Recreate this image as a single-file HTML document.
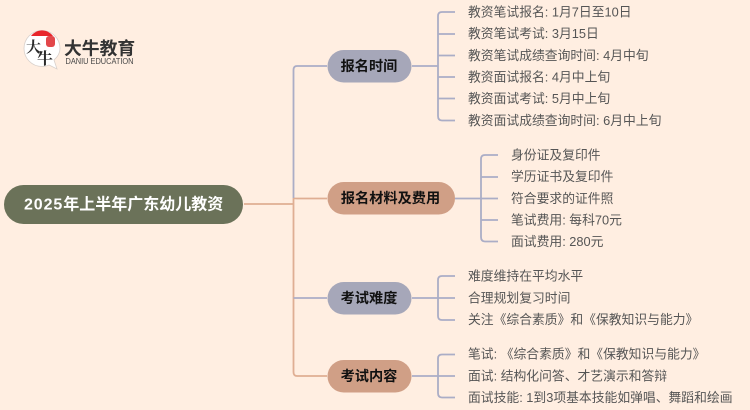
<!DOCTYPE html>
<html lang="zh"><head><meta charset="utf-8"><title>2025年上半年广东幼儿教资</title>
<style>
html,body{margin:0;padding:0;background:#ffeee1;width:750px;height:410px;overflow:hidden}
svg{display:block;filter:blur(.3px)}
text{font-family:"Liberation Sans","Noto Sans CJK SC",sans-serif}
.c{font-size:12.8px;fill:#555}
.n{font-size:14.200px;font-weight:700;fill:#111;text-anchor:middle}
.l{fill:none;stroke-width:1.800}
.p{stroke:#abadc6}
.o{stroke:#dfae93}
</style></head><body>
<svg width="750" height="410" viewBox="0 0 750 410" xmlns="http://www.w3.org/2000/svg">
<rect width="750" height="410" fill="#ffeee1"/>

<!-- trunk -->
<path class="l p" d="M327 66H297Q293.500 66 293.500 70V198"/>
<path class="l o" d="M244 204H293.500M293.500 198V372Q293.500 376 297 376H327M293.500 198Q293.500 198.500 297 198.500H327"/>
<path class="l p" d="M293.500 298H327"/>

<!-- root -->
<rect x="4" y="185" width="239" height="39" rx="19.500" fill="#6b7259"/>
<text x="24" y="209.500" font-size="16" font-weight="700" fill="#fff"><tspan letter-spacing="0.900">2025</tspan>年上半年广东幼儿教资</text>

<!-- branch nodes -->
<rect x="327.500" y="50" width="84" height="32.500" rx="16.250" fill="#a6a7b9"/>
<text class="n" x="369" y="71">报名时间</text>
<rect x="327.500" y="182" width="127.500" height="32.500" rx="16.250" fill="#d09f86"/>
<text class="n" x="390.500" y="203">报名材料及费用</text>
<rect x="327.500" y="282" width="84" height="32.500" rx="16.250" fill="#a6a7b9"/>
<text class="n" x="369" y="303">考试难度</text>
<rect x="327.500" y="360" width="84" height="32.500" rx="16.250" fill="#d09f86"/>
<text class="n" x="369" y="381">考试内容</text>

<!-- group 1 -->
<path class="l p" d="M412 66H438M455 12H442Q438 12 438 16V116Q438 120.500 442 120.500H455M438 34H455M438 55.500H455M438 77H455M438 98.500H455"/>
<text class="c" x="468" y="16.500">教资笔试报名: 1月7日至10日</text>
<text class="c" x="468" y="38">教资笔试考试: 3月15日</text>
<text class="c" x="468" y="60">教资笔试成绩查询时间: 4月中旬</text>
<text class="c" x="468" y="81.500">教资面试报名: 4月中上旬</text>
<text class="c" x="468" y="103">教资面试考试: 5月中上旬</text>
<text class="c" x="468" y="125">教资面试成绩查询时间: 6月中上旬</text>

<!-- group 2 -->
<path class="l p" d="M455 198.500H481M498 155H485Q481 155 481 159V237Q481 241.500 485 241.500H498M481 177H498M481 198.500H498M481 220H498"/>
<text class="c" x="511" y="159.500">身份证及复印件</text>
<text class="c" x="511" y="181">学历证书及复印件</text>
<text class="c" x="511" y="203">符合要求的证件照</text>
<text class="c" x="511" y="224.500">笔试费用: 每科70元</text>
<text class="c" x="511" y="246">面试费用: 280元</text>

<!-- group 3 -->
<path class="l p" d="M412 298H438M455 276H442Q438 276 438 280V316Q438 320 442 320H455M438 298H455"/>
<text class="c" x="468" y="280.500">难度维持在平均水平</text>
<text class="c" x="468" y="302.500">合理规划复习时间</text>
<text class="c" x="468" y="324">关注《综合素质》和《保教知识与能力》</text>

<!-- group 4 -->
<path class="l p" d="M412 376H438M455 354.500H442Q438 354.500 438 358.500V393Q438 397.500 442 397.500H455M438 376H455"/>
<text class="c" x="468" y="358.500">笔试: 《综合素质》和《保教知识与能力》</text>
<text class="c" x="468" y="380.500">面试: 结构化问答、才艺演示和答辩</text>
<text class="c" x="468" y="402">面试技能: 1到3项基本技能如弹唱、舞蹈和绘画</text>

<!-- logo -->
<path d="M42 30.500C32 30.500 24 38.500 24 48.500C24 58.500 32 66.500 42 66.500C45 66.500 47 66 49 65L57 69L54 60C57.500 57 60 53 60 48.500C60 38.500 52 30.500 42 30.500Z" fill="#fff" stroke="#d8d0cb" stroke-width="0.800"/>
<path d="M31 36C37 28.500 47 28.500 53 36Z" fill="#e8262a"/>
<rect x="46" y="36" width="9" height="11" rx="3" fill="#e2474a"/>
<text x="26" y="52" font-size="15" font-weight="700" fill="#2a2a2a" style="font-family:'Noto Serif CJK SC',serif">大</text>
<text x="37" y="64" font-size="16" font-weight="700" fill="#2a2a2a" style="font-family:'Noto Serif CJK SC',serif">牛</text>
<text x="64" y="54.500" font-size="17.800" font-weight="700" fill="#333">大牛教育</text>
<text x="65.500" y="64" font-size="8.400" fill="#444" textLength="68" lengthAdjust="spacingAndGlyphs">DANIU EDUCATION</text>
</svg>
</body></html>
